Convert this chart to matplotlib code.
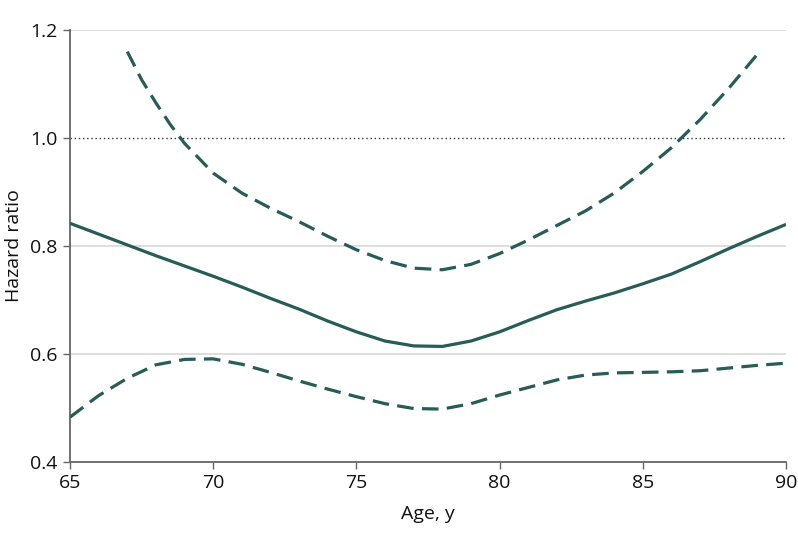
import matplotlib
matplotlib.use("Agg")
import matplotlib.pyplot as plt

plt.rcParams['font.family'] = ['Open Sans', 'DejaVu Sans']

ages = [65, 66, 67, 68, 69, 70, 71, 72, 73, 74, 75, 76, 77, 78, 79, 80,
        81, 82, 83, 84, 85, 86, 87, 88, 89, 90]
hr = [0.842, 0.822, 0.802, 0.782, 0.763, 0.744, 0.724, 0.703, 0.683, 0.661,
      0.641, 0.624, 0.615, 0.614, 0.624, 0.641, 0.662, 0.682, 0.698, 0.713,
      0.730, 0.748, 0.771, 0.795, 0.818, 0.840]
lower = [0.483, 0.523, 0.555, 0.580, 0.590, 0.591, 0.581, 0.566, 0.550, 0.535,
         0.521, 0.508, 0.499, 0.498, 0.508, 0.524, 0.538, 0.552, 0.561, 0.565,
         0.566, 0.567, 0.569, 0.574, 0.579, 0.583]
upper_ages = [67, 67.5, 68, 68.5, 69, 70, 71, 72, 73, 74, 75, 76, 77, 78, 79,
              80, 81, 82, 83, 84, 85, 86, 87, 88, 89]
upper = [1.16, 1.108, 1.065, 1.025, 0.99, 0.935, 0.898, 0.870, 0.845, 0.818,
         0.793, 0.773, 0.759, 0.756, 0.766, 0.786, 0.811, 0.838, 0.865, 0.898,
         0.938, 0.982, 1.034, 1.092, 1.155]

xticks = [65, 70, 75, 80, 85, 90]
yticks = [0.4, 0.6, 0.8, 1.0, 1.2]
ytick_labels = ["0.4", "0.6", "0.8", "1.0", "1.2"]

color = "#275c57"
W, H = 798, 548
fig = plt.figure(figsize=(W / 100, H / 100), dpi=100)
ax = fig.add_axes([70 / W, (H - 462) / H, 716 / W, 432 / H])

for y in [0.6, 0.8, 1.2]:
    ax.axhline(y, color="#dedede", lw=1.4, zorder=0)
ax.axhline(1.0, color="#333333", lw=1.0, ls=(0, (1, 2)), zorder=1)

lw = 2.3
ax.plot(ages, hr, color=color, lw=lw, solid_capstyle="butt", zorder=3)
ax.plot(ages, lower, color=color, lw=lw, ls=(0, (5.2, 2.6)), zorder=3)
ax.plot(upper_ages, upper, color=color, lw=lw, ls=(0, (5.2, 2.6)), zorder=3)

ax.set_xlim(65, 90)
ax.set_ylim(0.4, 1.2)
ax.set_xticks(xticks)
ax.set_yticks(yticks)
ax.set_yticklabels(ytick_labels)

for s in ["top", "right"]:
    ax.spines[s].set_visible(False)
for s in ["left", "bottom"]:
    ax.spines[s].set_color("#666666")
    ax.spines[s].set_linewidth(1.3)
ax.tick_params(axis="both", direction="out", length=5, width=1.0,
               color="#666666", labelsize=14, labelcolor="#111111", pad=4)

ax.set_xlabel("Age, y", fontsize=14, color="#111111", labelpad=9)
ax.set_ylabel("Hazard ratio", fontsize=14, color="#111111", labelpad=5)

fig.savefig("out.png", dpi=100)
